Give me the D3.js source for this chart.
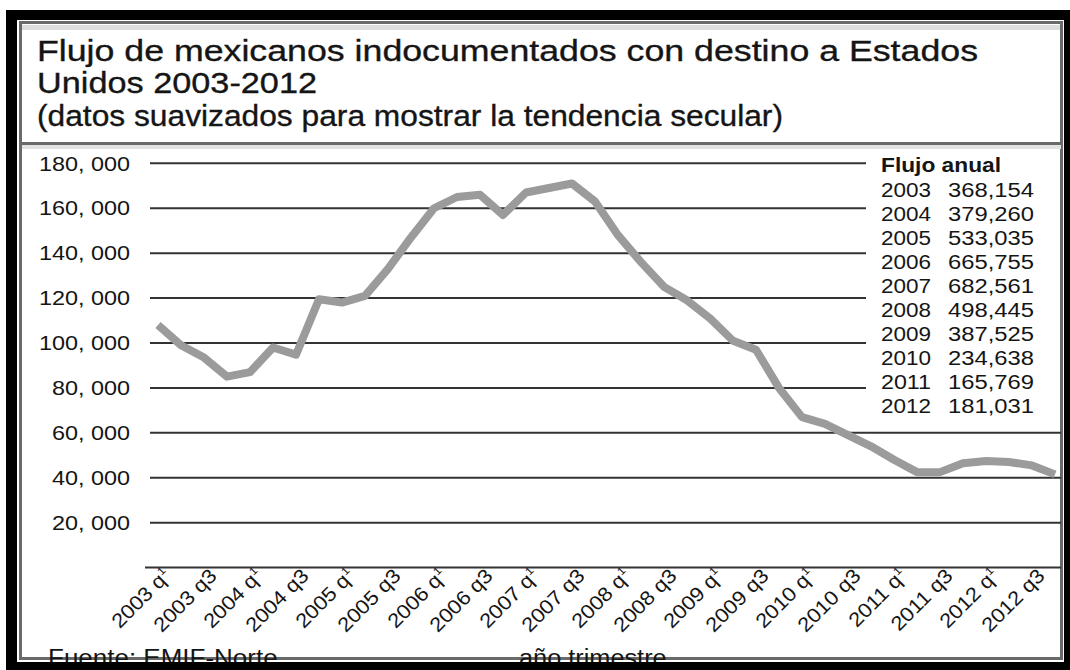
<!DOCTYPE html>
<html><head><meta charset="utf-8">
<script src="https://cdn.jsdelivr.net/npm/d3@7"></script>
<style>body{margin:0;background:#fff}svg{display:block}text{font-family:"Liberation Sans",Arial,Helvetica,sans-serif;fill:#151515}</style>
</head><body>
<svg id="c" width="1070" height="670"></svg>
<script>
// ---- data ----
const years = [2003,2004,2005,2006,2007,2008,2009,2010,2011,2012];
const quarters = ["q1","q2","q3","q4"];
const flujoTrimestral = [
 108000, 99000, 93500, 85000,
  87000, 98000, 94800,119500,
 118000,121000,133000,147000,
 160000,165000,166000,157000,
 167000,169000,171000,163000,
 148000,136000,125000,119000,
 111000,101000, 97000, 80000,
  67000, 64000, 59000, 54000,
  48000, 42500, 42500, 46500,
  47500, 47000, 45500, 41500];
const flujoAnual = [368154,379260,533035,665755,682561,498445,387525,234638,165769,181031];
const yTicks = [20000,40000,60000,80000,100000,120000,140000,160000,180000];
const titleLines = ["Flujo de mexicanos indocumentados con destino a Estados","Unidos 2003-2012","(datos suavizados para mostrar la tendencia secular)"];

const labels = [];
years.forEach(y => quarters.forEach(q => labels.push(y + " " + q)));

const svg = d3.select("#c");
function fit(sel, w){ sel.attr("textLength", w).attr("lengthAdjust","spacingAndGlyphs"); }
function stretch(sel, k){ sel.each(function(){ const L=this.getComputedTextLength(); this.setAttribute("textLength", L*k); this.setAttribute("lengthAdjust","spacingAndGlyphs"); }); }

// frame
svg.append("rect").attr("x",6).attr("y",10).attr("width",1064).attr("height",660).attr("fill","#000");
svg.append("rect").attr("x",17).attr("y",20).attr("width",1047).attr("height",642).attr("fill","#fff");
svg.append("rect").attr("x",22).attr("y",25).attr("width",1039).attr("height",5).attr("fill","#ddd");
svg.append("rect").attr("x",20.5).attr("y",22.5).attr("width",1041).attr("height",636).attr("fill","none").attr("stroke","#6a6a6a").attr("stroke-width",3);
svg.append("rect").attr("x",22).attr("y",145).attr("width",1039).attr("height",4).attr("fill","#e2e2e2");
svg.append("line").attr("x1",20).attr("x2",1062).attr("y1",143.5).attr("y2",143.5).attr("stroke","#6a6a6a").attr("stroke-width",3);

// title
const tW = [941, 280, 746];
const tY = [61, 93, 126];
titleLines.forEach((t,i)=>{
  svg.append("text").attr("x",37).attr("y",tY[i]).attr("font-size",30)
    .attr("stroke","#151515").attr("stroke-width",0.35).text(t).call(fit,tW[i]);
});

// scales
const x = d3.scaleLinear().domain([0, labels.length-1]).range([158,1055]);
const y = d3.scaleLinear().domain([0,180000]).range([567.6,163.3]);

// grid lines
const g = svg.append("g");
g.selectAll("line.grid").data(yTicks).join("line")
  .attr("x1",150).attr("x2",d=> d>=80000 ? 866 : 1061)
  .attr("y1",d=>y(d)).attr("y2",d=>y(d))
  .attr("stroke","#333").attr("stroke-width",2);
g.append("line").attr("x1",145).attr("x2",1061).attr("y1",y(0)).attr("y2",y(0)).attr("stroke","#333").attr("stroke-width",2);

// y labels
const fmt = d => d3.format(",")(d).replace(",", ", ");
g.selectAll("text.yl").data(yTicks).join("text")
  .attr("x",130).attr("y",d=>y(d)).attr("dy","0.36em").attr("text-anchor","end")
  .attr("font-size",20).attr("fill","#222").text(fmt).call(stretch,1.17);

// line
const line = d3.line().x((d,i)=>x(i)).y(d=>y(d));
svg.append("path").datum(flujoTrimestral).attr("d",line)
  .attr("fill","none").attr("stroke","#9b9b9b").attr("stroke-width",8)
  .attr("stroke-linejoin","round").attr("stroke-linecap","butt");

// x labels
const xi = d3.range(0, labels.length, 2);
xi.forEach(i=>{
  const px = x(i)+14, py = 577;
  const t = svg.append("text").attr("transform",`translate(${px},${py}) rotate(-45)`)
    .attr("text-anchor","end").attr("font-size",20).attr("fill","#1a1a1a");
  const parts = labels[i].split(" q");
  if(parts[1]==="1"){
    t.append("tspan").text(parts[0]+" q");
    t.append("tspan").attr("font-size",11).attr("dy",-8).text("1");
  } else {
    t.text(labels[i]);
  }
  stretch(t,1.1);
});

// legend
svg.append("text").attr("x",881).attr("y",172).attr("font-size",19.5).attr("font-weight","bold").text("Flujo anual").call(fit,120);
years.forEach((yr,k)=>{
  const by = 197 + 24*k;
  svg.append("text").attr("x",881).attr("y",by).attr("font-size",19.5).text(yr).call(fit,50);
  svg.append("text").attr("x",1034).attr("y",by).attr("text-anchor","end").attr("font-size",19.5).text(d3.format(",")(flujoAnual[k])).call(fit,86);
});

// footer
svg.append("text").attr("x",48).attr("y",666).attr("font-size",23).text("Fuente: EMIF-Norte").call(stretch,1.13);
svg.append("text").attr("x",519).attr("y",666).attr("font-size",23).text("año trimestre").call(stretch,1.1);

// bottom / right black edge over footer
svg.append("rect").attr("x",6).attr("y",662).attr("width",1064).attr("height",8).attr("fill","#000");
svg.append("rect").attr("x",1064).attr("y",10).attr("width",6).attr("height",660).attr("fill","#000");
</script>
</body></html>
